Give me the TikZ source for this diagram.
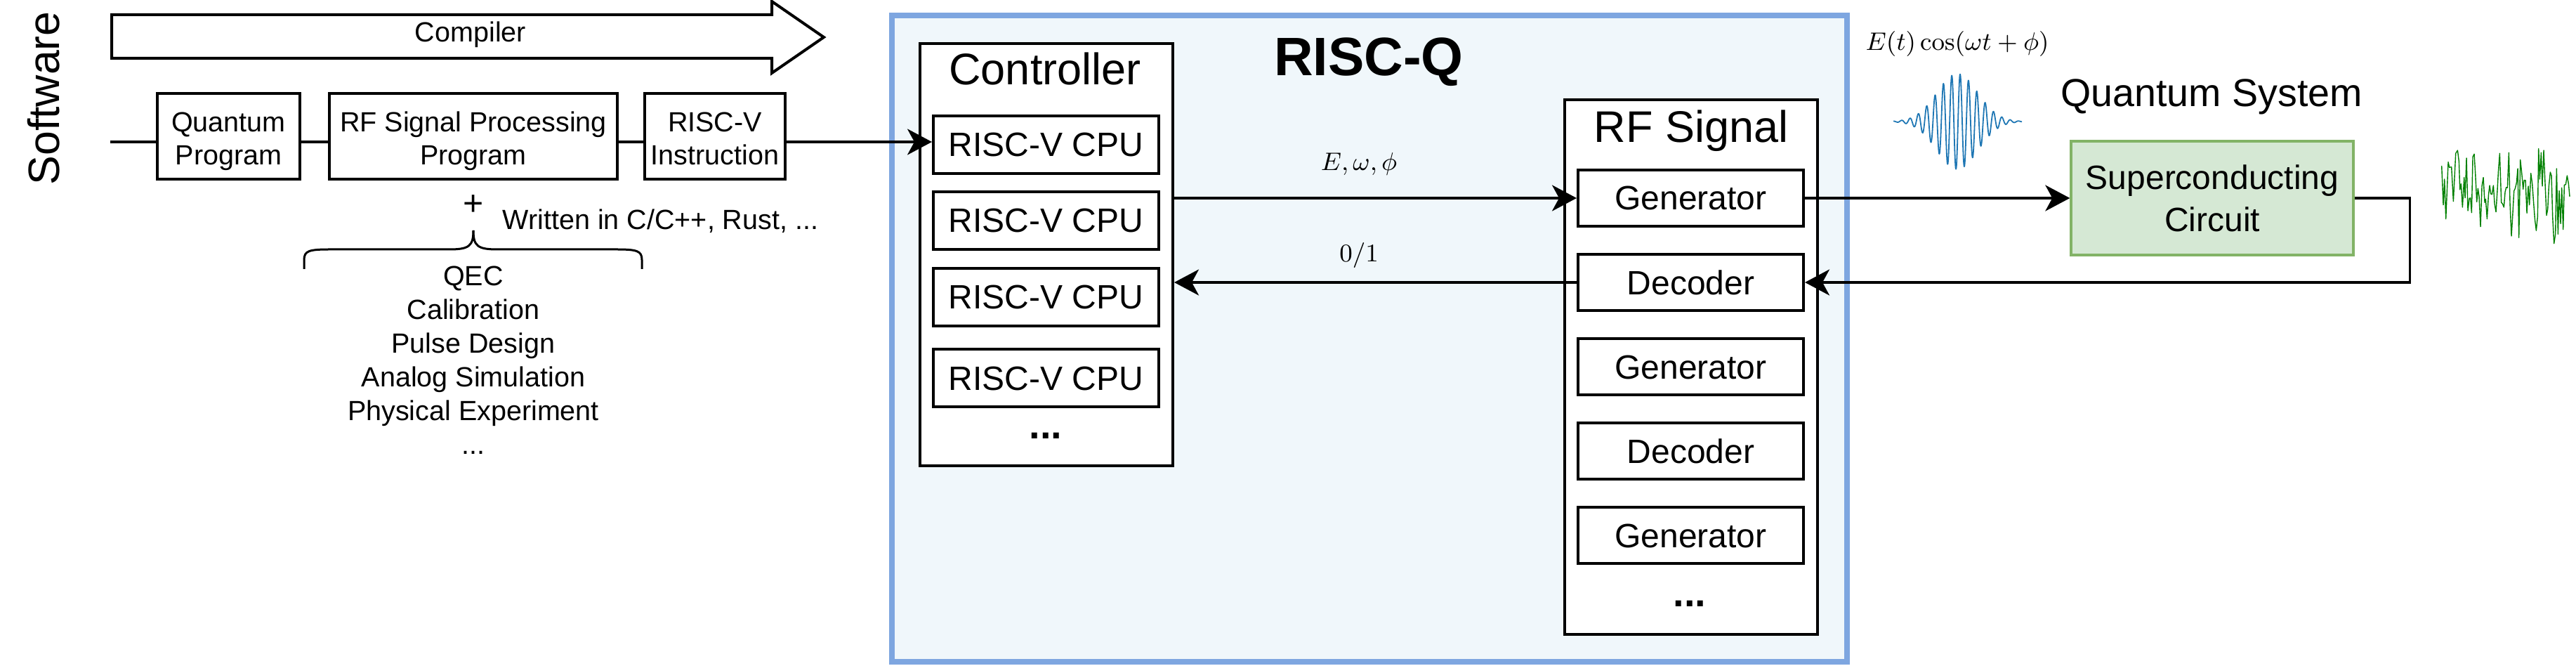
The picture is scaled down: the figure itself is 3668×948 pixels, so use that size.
\documentclass[tikz,border=0pt]{standalone}
\usepackage[no-math]{fontspec}
\setmainfont{Liberation Sans}
\usetikzlibrary{arrows.meta}
\definecolor{qblue}{RGB}{126,166,224}
\definecolor{qfill}{RGB}{240,247,251}
\definecolor{sgreen}{RGB}{130,179,102}
\definecolor{sfill}{RGB}{213,232,212}
\definecolor{wblue}{RGB}{31,119,180}
\definecolor{ngreen}{RGB}{0,128,0}
\newcommand{\fsz}[2]{\fontsize{#1}{#2}\selectfont}
\begin{document}
\begin{tikzpicture}[x=0.25pt,y=-0.25pt,
  blk/.style={draw, line width=1pt, fill=white, inner sep=0pt, align=center},
  twoline/.style={text height=20.5pt, text depth=0pt},
  txtS/.style={font=\fsz{9.875}{11.875}},
  txtM/.style={font=\fsz{12}{14.5}},
  txtL/.style={font=\fsz{15.75}{19}},
  dotsty/.style={font=\bfseries\fsz{14}{16}},
  lbl/.style={inner sep=0pt, anchor=base},
  conn/.style={line width=0.85pt},
  arr/.style={conn, -{Stealth[length=8.75pt,width=9.25pt,inset=2.5pt]}}]
\useasboundingbox (0,0) rectangle (3668,948);

% Software label
\node[rotate=90, lbl, font=\fsz{15.65}{18}] (sw) at (84,140) {Software};

% Compiler arrow
\draw[line width=1pt, fill=white, line join=miter] (159,21) -- (1099,21) -- (1099,2) -- (1173,53) -- (1099,104) -- (1099,83) -- (159,83) -- cycle;
\node[lbl, txtS] (comp) at (670,60) {Compiler};

% software boxes
\node[blk, txtS, twoline, minimum width=50.75pt, minimum height=30.5pt] (qp) at (325.5,194) {Quantum\\Program};
\node[blk, txtS, twoline, minimum width=102.5pt, minimum height=30.5pt] (rfp) at (674,194) {RF Signal Processing\\Program};
\node[blk, txtS, twoline, minimum width=50pt, minimum height=30.5pt] (rvi) at (1018,194) {RISC-V\\Instruction};

\node[font=\fsz{12.5}{14}, inner sep=0pt] (plus) at (674,292) {+};
\node[txtS, inner sep=0pt, anchor=base west] (wr) at (715,327) {Written in C/C++, Rust, ...};
\draw[line width=0.75pt] (433,383) -- (433,370) .. controls (433,357) and (440,355) .. (470,355) -- (640,355) .. controls (668,355) and (674,350) .. (674,328);
\draw[line width=0.75pt] (914,383) -- (914,370) .. controls (914,357) and (907,355) .. (877,355) -- (708,355) .. controls (680,355) and (674,350) .. (674,328);
\node[lbl, font=\fsz{9.875}{12}] (apps) at (674,407) {\begin{tabular}[t]{@{}c@{}}QEC\\Calibration\\Pulse Design\\Analog Simulation\\Physical Experiment\\...\end{tabular}};

% RISC-Q container
\node[draw=qblue, fill=qfill, line width=2pt, minimum width=340pt, minimum height=230pt, inner sep=0pt] (riscq) at (1950,482) {};
\node[lbl, font=\bfseries\fsz{19.25}{23}] (rqt) at (1949,108) {RISC-Q};

% Controller
\node[blk, minimum width=90pt, minimum height=150.25pt] (ctrl) at (1490,362.5) {};
\node[lbl, txtL] (ctrlt) at (1488,121) {Controller};
\node[blk, txtM, minimum width=80.25pt, minimum height=20.5pt] (cpu1) at (1489.5,206) {RISC-V CPU};
\node[blk, txtM, minimum width=80.25pt, minimum height=20.5pt] (cpu2) at (1489.5,314) {RISC-V CPU};
\node[blk, txtM, minimum width=80.25pt, minimum height=20.5pt] (cpu3) at (1489.5,423) {RISC-V CPU};
\node[blk, txtM, minimum width=80.25pt, minimum height=20.5pt] (cpu4) at (1489.5,538.5) {RISC-V CPU};
\node[lbl, dotsty] (cdots) at (1489,625) {...};

% RF Signal
\node[blk, minimum width=90pt, minimum height=190.25pt] (rfs) at (2408,522.5) {};
\node[lbl, txtL] (rfst) at (2408,203) {RF Signal};
\node[blk, txtM, minimum width=80.25pt, minimum height=20pt] (gen1) at (2407.5,282) {Generator};
\node[blk, txtM, minimum width=80.25pt, minimum height=20pt] (dec1) at (2407.5,402) {Decoder};
\node[blk, txtM, minimum width=80.25pt, minimum height=20pt] (gen2) at (2407.5,522.5) {Generator};
\node[blk, txtM, minimum width=80.25pt, minimum height=20pt] (dec2) at (2407.5,642.5) {Decoder};
\node[blk, txtM, minimum width=80.25pt, minimum height=20pt] (gen3) at (2407.5,762.5) {Generator};
\node[lbl, dotsty] (rdots) at (2406,864) {...};

\node[lbl, font=\fsz{9}{11}] (lE) at (1935,243) {$E,\omega,\phi$};
\node[lbl, font=\fsz{9}{11}] (l01) at (1935,373) {$0/1$};

% Quantum system
\node[lbl, font=\fsz{9}{11}] (form) at (2787,72) {$E(t)\cos(\omega t+\phi)$};
\node[lbl, font=\fsz{13.9}{16}] (qs) at (3149,152) {Quantum System};
\node[blk, draw=sgreen, fill=sfill, line width=0.85pt, font=\fsz{12}{15}, minimum width=100.5pt, minimum height=40.5pt] (sc) at (3150,282) {Superconducting\\Circuit};

% connectors
\coordinate (ls) at (157,202);
\draw[conn] (ls) -- (ls -| qp.west);
\draw[conn] (ls -| qp.east) -- (ls -| rfp.west);
\draw[conn] (ls -| rfp.east) -- (ls -| rvi.west);
\draw[arr] (ls -| rvi.east) -- (ls -| cpu1.west);
\draw[arr] (gen1.west -| ctrl.east) -- (gen1.west);
\draw[arr] (dec1.west) -- (dec1.west -| ctrl.east);
\draw[arr] (gen1.east) -- (sc.west);
\draw[arr] (sc.east) -- ++(79,0) |- (dec1.east);

% pulse
\draw[wblue, line width=0.45pt, line join=round] plot[domain=-91:92, samples=600] ({2787+\x},{173-68*exp(-(\x*\x)/1700)*cos(30.2521*(\x-4))});

% noise
\begin{scope}[shift={(3460,190)}, x=0.083333pt, y=-0.083333pt]
\draw[ngreen, line width=0.35pt, line join=round] plot coordinates {(50,138) (57,305) (62,195) (68,365) (78,122) (83,145) (92,143) (100,290) (110,85) (118,72) (124,120) (128,240) (133,215) (139,315) (146,188) (150,275) (156,105) (162,330) (168,278) (173,275) (178,338) (183,100) (189,88) (194,170) (200,292) (205,235) (210,270) (216,398) (222,225) (228,188) (234,295) (238,280) (244,365) (250,265) (255,222) (260,258) (265,260) (271,222) (276,300) (282,335) (288,240) (292,165) (298,85) (305,295) (310,300) (316,315) (321,250) (326,230) (331,232) (337,82) (342,300) (348,438) (353,355) (359,245) (364,235) (370,210) (375,150) (380,445) (386,112) (392,168) (398,238) (402,200) (408,200) (414,340) (420,225) (425,305) (431,170) (437,215) (442,285) (448,365) (454,415) (460,355) (464,65) (469,195) (475,82) (480,225) (486,72) (492,215) (498,350) (503,325) (508,225) (514,165) (519,180) (524,355) (530,470) (536,430) (541,150) (547,430) (552,245) (558,385) (563,232) (569,410) (574,220) (580,218) (586,180) (592,215) (597,270)};
\end{scope}
\end{tikzpicture}
\end{document}
